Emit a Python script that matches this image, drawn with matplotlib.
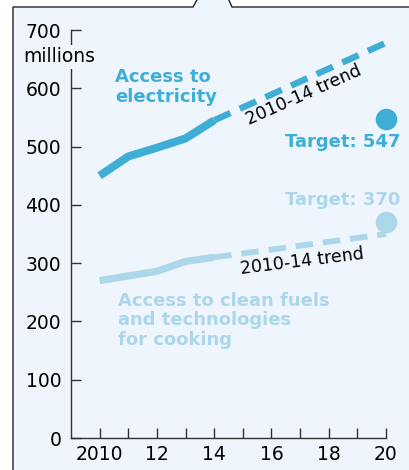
import matplotlib.pyplot as plt
from matplotlib.patches import Polygon

years = [2010, 2011, 2012, 2013, 2014]
electricity = [450, 483, 498, 514, 545]
cooking = [270, 278, 286, 303, 310]

trend_years = [2014, 2020]
electricity_trend = [545, 678]
cooking_trend = [310, 350]

target_year = 2020
electricity_target = 547
cooking_target = 370

xticks = list(range(2010, 2021))
xlabels = ['2010', '', '12', '', '14', '', '16', '', '18', '', '20']
yticks = list(range(0, 701, 100))

elec_col = '#3eaed6'
cook_col = '#acd7eb'
panel_col = '#eff5fc'
W, H = 409, 470

plt.rcParams['font.family'] = 'DejaVu Sans'

fig = plt.figure(figsize=(W / 100, H / 100), dpi=100)
fig.patch.set_facecolor('white')

# callout panel with a small notch on top
pts = [(13, 480), (13, 7), (193, 7), (198, -2), (228, -2), (232, 7), (420, 7), (420, 480)]
fig.patches.append(Polygon([(x / W, 1 - y / H) for x, y in pts], closed=True,
                           transform=fig.transFigure, facecolor=panel_col,
                           edgecolor='#222222', linewidth=1.0, zorder=-5))

ax = fig.add_axes([71 / W, 1 - 438 / H, 315 / W, 408 / H])
ax.set_zorder(2)
ax.patch.set_visible(False)
ax.set_xlim(2009, 2020)
ax.set_ylim(0, 700)
for s in ['top', 'right']:
    ax.spines[s].set_visible(False)
for s in ['left', 'bottom']:
    ax.spines[s].set_color('#333333')
    ax.spines[s].set_linewidth(1.0)

ax.set_xticks(xticks)
ax.set_xticklabels(xlabels)
ax.set_yticks(yticks)
ax.tick_params(direction='in', length=7, width=1, color='#333333', labelsize=13.5)
ax.tick_params(axis='x', pad=5)
ax.tick_params(axis='y', pad=7)

# series
ax.plot(years, electricity, color=elec_col, lw=5.8, solid_capstyle='butt',
        solid_joinstyle='round', clip_on=False)
ax.plot(trend_years, electricity_trend, color=elec_col, lw=4.6,
        dashes=(2.8, 1.6), dash_capstyle='butt', clip_on=False)
ax.plot(years, cooking, color=cook_col, lw=5.2, solid_capstyle='butt',
        solid_joinstyle='round', clip_on=False)
ax.plot(trend_years, cooking_trend, color=cook_col, lw=4.2,
        dashes=(3.0, 1.7), dash_capstyle='butt', clip_on=False)

ax.plot([target_year], [electricity_target], 'o', color=elec_col, ms=15.5,
        mec='none', clip_on=False)
ax.plot([target_year], [cooking_target], 'o', color=cook_col, ms=15.5,
        mec='none', clip_on=False)

# labels
ax.text(2010.54, 602, 'Access to\nelectricity', color=elec_col, fontsize=13,
        fontweight='bold', ha='left', va='center', linespacing=1.1)
ax.text(2010.64, 202, 'Access to clean fuels\nand technologies\nfor cooking',
        color=cook_col, fontsize=13, fontweight='bold', ha='left', va='center',
        linespacing=1.1)
ax.text(2020.49, 508, 'Target: 547', color=elec_col, fontsize=13,
        fontweight='bold', ha='right', va='center', clip_on=False)
ax.text(2020.49, 408, 'Target: 370', color=cook_col, fontsize=13,
        fontweight='bold', ha='right', va='center', clip_on=False)
ax.text(2017.14, 589, '2010-14 trend', fontsize=12.5, rotation=24,
        ha='center', va='center', rotation_mode='anchor')
ax.text(2017.07, 303, '2010-14 trend', fontsize=12.5, rotation=7,
        ha='center', va='center', rotation_mode='anchor')

fig.text(23 / W, 1 - 57 / H, 'millions', fontsize=13.5, ha='left', va='center',
         zorder=5, bbox=dict(facecolor=panel_col, edgecolor='none', pad=1.5))

fig.savefig('out.png', dpi=100)
